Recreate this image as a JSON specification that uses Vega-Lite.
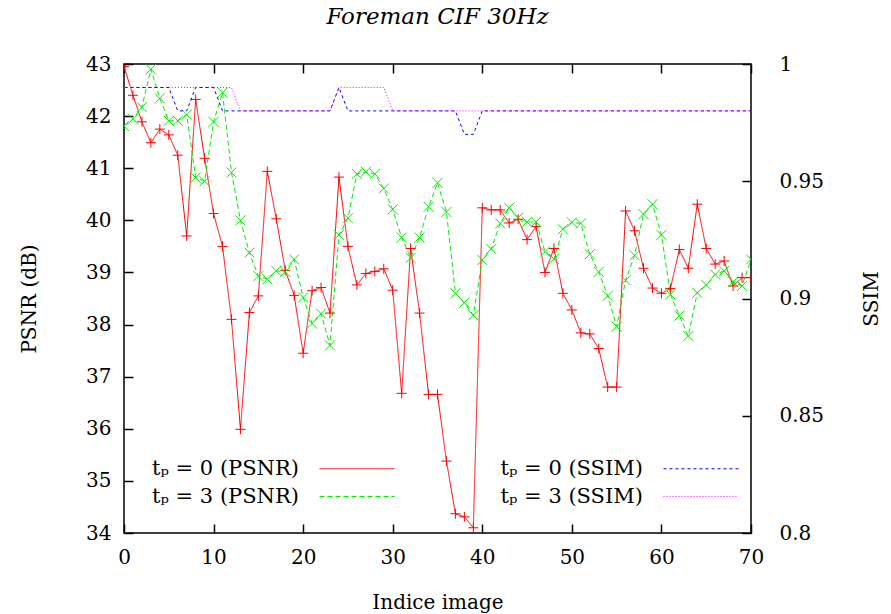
{
  "$schema": "https://vega.github.io/schema/vega-lite/v6.json",
  "width": 627,
  "height": 469,
  "autosize": {"type": "none"},
  "padding": {"left": 124, "top": 64, "right": 140, "bottom": 81},
  "background": "white",
  "title": {"text": "Foreman CIF 30Hz", "font": "DejaVu Serif", "fontStyle": "italic", "fontWeight": "normal", "fontSize": 23, "color": "black", "anchor": "middle", "offset": 25},
  "data": {"values": [
    {"f":0,"p0":42.95,"p3":41.81,"s0":0.99,"s3":0.99},
    {"f":1,"p0":42.40,"p3":41.94,"s0":0.99,"s3":0.99},
    {"f":2,"p0":41.89,"p3":42.17,"s0":0.99,"s3":0.99},
    {"f":3,"p0":41.49,"p3":42.90,"s0":0.99,"s3":0.99},
    {"f":4,"p0":41.75,"p3":42.34,"s0":0.99,"s3":0.99},
    {"f":5,"p0":41.64,"p3":41.91,"s0":0.99,"s3":0.99},
    {"f":6,"p0":41.25,"p3":41.91,"s0":0.98,"s3":0.99},
    {"f":7,"p0":39.70,"p3":42.03,"s0":0.98,"s3":0.99},
    {"f":8,"p0":42.32,"p3":40.82,"s0":0.99,"s3":0.99},
    {"f":9,"p0":41.19,"p3":40.75,"s0":0.99,"s3":0.99},
    {"f":10,"p0":40.13,"p3":41.89,"s0":0.99,"s3":0.99},
    {"f":11,"p0":39.50,"p3":42.45,"s0":0.98,"s3":0.99},
    {"f":12,"p0":38.10,"p3":40.92,"s0":0.98,"s3":0.99},
    {"f":13,"p0":35.99,"p3":40.00,"s0":0.98,"s3":0.98},
    {"f":14,"p0":38.23,"p3":39.38,"s0":0.98,"s3":0.98},
    {"f":15,"p0":38.55,"p3":38.93,"s0":0.98,"s3":0.98},
    {"f":16,"p0":40.94,"p3":38.87,"s0":0.98,"s3":0.98},
    {"f":17,"p0":40.03,"p3":39.03,"s0":0.98,"s3":0.98},
    {"f":18,"p0":39.04,"p3":39.01,"s0":0.98,"s3":0.98},
    {"f":19,"p0":38.56,"p3":39.25,"s0":0.98,"s3":0.98},
    {"f":20,"p0":37.45,"p3":38.52,"s0":0.98,"s3":0.98},
    {"f":21,"p0":38.65,"p3":38.02,"s0":0.98,"s3":0.98},
    {"f":22,"p0":38.71,"p3":38.21,"s0":0.98,"s3":0.98},
    {"f":23,"p0":38.22,"p3":37.60,"s0":0.98,"s3":0.98},
    {"f":24,"p0":40.83,"p3":39.72,"s0":0.99,"s3":0.99},
    {"f":25,"p0":39.50,"p3":40.04,"s0":0.98,"s3":0.99},
    {"f":26,"p0":38.76,"p3":40.89,"s0":0.98,"s3":0.99},
    {"f":27,"p0":38.98,"p3":40.93,"s0":0.98,"s3":0.99},
    {"f":28,"p0":39.02,"p3":40.89,"s0":0.98,"s3":0.99},
    {"f":29,"p0":39.07,"p3":40.61,"s0":0.98,"s3":0.99},
    {"f":30,"p0":38.66,"p3":40.21,"s0":0.98,"s3":0.98},
    {"f":31,"p0":36.68,"p3":39.67,"s0":0.98,"s3":0.98},
    {"f":32,"p0":39.46,"p3":39.28,"s0":0.98,"s3":0.98},
    {"f":33,"p0":38.22,"p3":39.67,"s0":0.98,"s3":0.98},
    {"f":34,"p0":36.66,"p3":40.26,"s0":0.98,"s3":0.98},
    {"f":35,"p0":36.66,"p3":40.72,"s0":0.98,"s3":0.98},
    {"f":36,"p0":35.38,"p3":40.16,"s0":0.98,"s3":0.98},
    {"f":37,"p0":34.37,"p3":38.60,"s0":0.98,"s3":0.98},
    {"f":38,"p0":34.31,"p3":38.42,"s0":0.97,"s3":0.98},
    {"f":39,"p0":34.10,"p3":38.18,"s0":0.97,"s3":0.98},
    {"f":40,"p0":40.24,"p3":39.24,"s0":0.98,"s3":0.98},
    {"f":41,"p0":40.20,"p3":39.45,"s0":0.98,"s3":0.98},
    {"f":42,"p0":40.20,"p3":39.94,"s0":0.98,"s3":0.98},
    {"f":43,"p0":39.95,"p3":40.24,"s0":0.98,"s3":0.98},
    {"f":44,"p0":40.02,"p3":40.05,"s0":0.98,"s3":0.98},
    {"f":45,"p0":39.63,"p3":39.97,"s0":0.98,"s3":0.98},
    {"f":46,"p0":39.88,"p3":39.97,"s0":0.98,"s3":0.98},
    {"f":47,"p0":39.00,"p3":39.40,"s0":0.98,"s3":0.98},
    {"f":48,"p0":39.46,"p3":39.26,"s0":0.98,"s3":0.98},
    {"f":49,"p0":38.60,"p3":39.83,"s0":0.98,"s3":0.98},
    {"f":50,"p0":38.28,"p3":39.96,"s0":0.98,"s3":0.98},
    {"f":51,"p0":37.84,"p3":39.94,"s0":0.98,"s3":0.98},
    {"f":52,"p0":37.82,"p3":39.35,"s0":0.98,"s3":0.98},
    {"f":53,"p0":37.54,"p3":39.01,"s0":0.98,"s3":0.98},
    {"f":54,"p0":36.80,"p3":38.55,"s0":0.98,"s3":0.98},
    {"f":55,"p0":36.80,"p3":37.96,"s0":0.98,"s3":0.98},
    {"f":56,"p0":40.18,"p3":38.85,"s0":0.98,"s3":0.98},
    {"f":57,"p0":39.80,"p3":39.33,"s0":0.98,"s3":0.98},
    {"f":58,"p0":39.08,"p3":40.12,"s0":0.98,"s3":0.98},
    {"f":59,"p0":38.70,"p3":40.31,"s0":0.98,"s3":0.98},
    {"f":60,"p0":38.60,"p3":39.72,"s0":0.98,"s3":0.98},
    {"f":61,"p0":38.69,"p3":38.58,"s0":0.98,"s3":0.98},
    {"f":62,"p0":39.44,"p3":38.17,"s0":0.98,"s3":0.98},
    {"f":63,"p0":39.08,"p3":37.78,"s0":0.98,"s3":0.98},
    {"f":64,"p0":40.31,"p3":38.61,"s0":0.98,"s3":0.98},
    {"f":65,"p0":39.46,"p3":38.76,"s0":0.98,"s3":0.98},
    {"f":66,"p0":39.16,"p3":38.96,"s0":0.98,"s3":0.98},
    {"f":67,"p0":39.22,"p3":39.03,"s0":0.98,"s3":0.98},
    {"f":68,"p0":38.74,"p3":38.82,"s0":0.98,"s3":0.98},
    {"f":69,"p0":38.90,"p3":38.74,"s0":0.98,"s3":0.98},
    {"f":70,"p0":38.90,"p3":39.25,"s0":0.98,"s3":0.98}
  ]},
  "layer": [
    {
      "transform": [{"fold": ["p0", "p3"], "as": ["key", "val"]}],
      "layer": [
        {
          "mark": {"type": "line", "strokeWidth": 1, "clip": true},
          "encoding": {
            "x": {"field": "f", "type": "quantitative", "scale": {"domain": [0, 70], "nice": false},
                  "axis": {"orient": "bottom", "values": [0,10,20,30,40,50,60,70], "tickSize": -9, "labelPadding": 23, "title": "Indice image", "titlePadding": 25}},
            "y": {"field": "val", "type": "quantitative", "scale": {"domain": [34, 43], "nice": false, "zero": false},
                  "axis": {"orient": "left", "values": [34,35,36,37,38,39,40,41,42,43], "tickSize": -9, "labelPadding": 22, "title": "PSNR (dB)", "titlePadding": 46}},
            "color": {"field": "key", "type": "nominal",
                      "scale": {"domain": ["p0", "s0", "p3", "s3"], "range": ["#ff0000", "#0000ff", "#00ee00", "#ff00ff"]},
                      "legend": {
                        "orient": "none", "legendX": 10, "legendY": 394, "columns": 2, "title": null,
                        "values": ["p0", "p3", "s0", "s3"],
                        "symbolType": "M-4,0H4", "symbolSize": 352, "symbolStrokeWidth": 1, "symbolFillColor": "transparent",
                        "labelFont": "DejaVu Serif", "labelFontSize": 21, "labelColor": "black", "labelLimit": 400,
                        "columnPadding": 81, "rowPadding": 6,
                        "labelExpr": "datum.label == 'p0' ? 'tₚ = 0 (PSNR)' : datum.label == 'p3' ? 'tₚ = 3 (PSNR)' : datum.label == 's0' ? 'tₚ = 0 (SSIM)' : 'tₚ = 3 (SSIM)'",
                        "encode": {"labels": {"update": {"x": {"value": 165}, "align": {"value": "right"}}}, "symbols": {"update": {"x": {"value": 223}}}}
                      }},
            "strokeDash": {"field": "key", "type": "nominal",
                           "scale": {"domain": ["p0", "s0", "p3", "s3"], "range": [[1, 0], [3, 3], [5, 3], [1, 2]]}}
          }
        },
        {
          "mark": {"type": "point", "filled": false, "strokeWidth": 1, "opacity": 1, "clip": true},
          "encoding": {
            "x": {"field": "f", "type": "quantitative"},
            "y": {"field": "val", "type": "quantitative"},
            "color": {"field": "key", "type": "nominal"},
            "shape": {"field": "key", "type": "nominal", "scale": {"domain": ["p0", "p3"], "range": ["M-1,0H1M0,-1V1", "M-1,-1L1,1M-1,1L1,-1"]}, "legend": null},
            "size": {"value": 100}
          }
        }
      ]
    },
    {
      "transform": [{"fold": ["s0", "s3"], "as": ["key", "val"]}],
      "mark": {"type": "line", "strokeWidth": 1, "clip": true},
      "encoding": {
        "x": {"field": "f", "type": "quantitative",
              "axis": {"orient": "top", "values": [0,10,20,30,40,50,60,70], "tickSize": -9, "labels": false, "title": null}},
        "y": {"field": "val", "type": "quantitative", "scale": {"domain": [0.8, 1], "nice": false, "zero": false},
              "axis": {"orient": "right", "values": [0.8, 0.85, 0.9, 0.95, 1], "format": ".2~f", "tickSize": -9, "labelPadding": 37, "title": "SSIM", "titleAngle": 270, "titlePadding": 58}},
        "color": {"field": "key", "type": "nominal"},
        "strokeDash": {"field": "key", "type": "nominal"}
      }
    }
  ],
  "resolve": {"scale": {"y": "independent"}, "axis": {"x": "independent"}},
  "config": {
    "font": "DejaVu Serif",
    "view": {"stroke": "black", "strokeWidth": 1.5},
    "axis": {
      "domain": false, "grid": false,
      "tickColor": "black", "tickWidth": 1.5,
      "labelFont": "DejaVu Serif", "labelFontSize": 20, "labelColor": "black",
      "titleFont": "DejaVu Serif", "titleFontSize": 20, "titleFontWeight": "normal", "titleColor": "black",
      "labelOverlap": false, "labelFlush": false, "labelBound": false
    }
  }
}
